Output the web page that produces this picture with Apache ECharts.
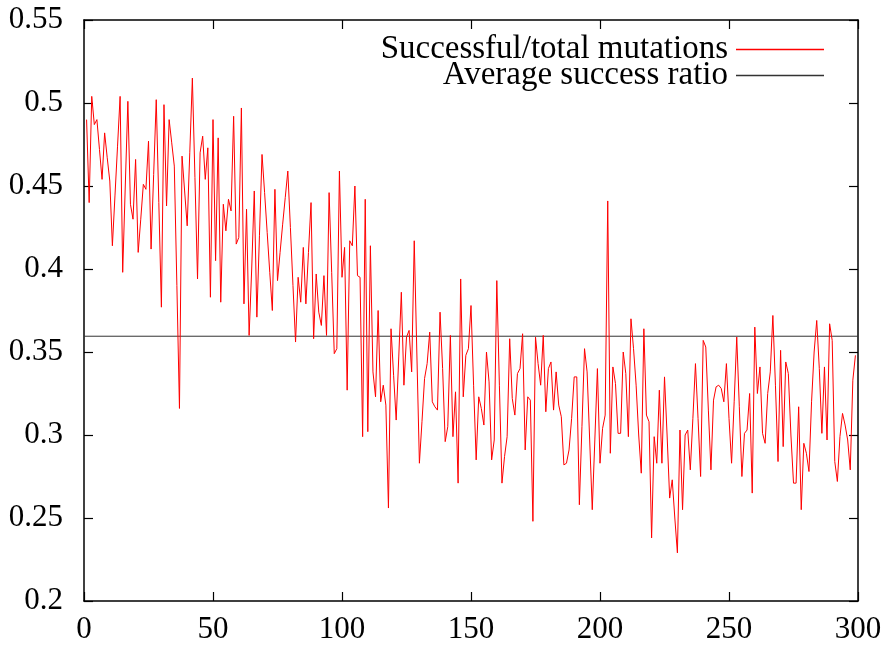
<!DOCTYPE html>
<html>
<head>
<meta charset="utf-8">
<script src="https://cdn.jsdelivr.net/npm/echarts@6/dist/echarts.min.js"></script>
<style>
html,body{margin:0;padding:0;background:#fff;}
#chart{width:892px;height:646px;}
</style>
</head>
<body>
<div id="chart"></div>
<script>
// Successful/total mutation ratio per generation (generations 1..299)
const successRatio = [
0.490,0.440,0.504,0.487,0.490,0.472,0.454,0.482,0.467,0.453,
0.414,0.444,0.474,0.504,0.398,0.450,0.501,0.439,0.430,0.466,
0.410,0.430,0.451,0.448,0.477,0.412,0.457,0.502,0.440,0.377,
0.499,0.438,0.490,0.476,0.462,0.390,0.316,0.468,0.447,0.426,
0.470,0.515,0.455,0.394,0.470,0.480,0.454,0.473,0.383,0.490,
0.405,0.479,0.380,0.439,0.423,0.442,0.435,0.492,0.415,0.419,
0.497,0.379,0.436,0.360,0.400,0.447,0.371,0.420,0.469,0.446,
0.422,0.398,0.375,0.448,0.393,0.410,0.427,0.443,0.459,0.425,
0.390,0.356,0.395,0.380,0.413,0.379,0.410,0.440,0.358,0.397,
0.374,0.366,0.396,0.360,0.446,0.398,0.349,0.352,0.459,0.395,
0.413,0.327,0.417,0.414,0.450,0.396,0.395,0.299,0.442,0.302,
0.414,0.338,0.323,0.375,0.320,0.330,0.318,0.256,0.364,0.336,
0.309,0.347,0.386,0.330,0.359,0.363,0.338,0.417,0.350,0.283,
0.308,0.334,0.343,0.362,0.320,0.317,0.315,0.374,0.340,0.296,
0.305,0.360,0.299,0.326,0.271,0.394,0.323,0.348,0.352,0.378,
0.330,0.285,0.323,0.316,0.306,0.350,0.332,0.285,0.297,0.393,
0.330,0.271,0.287,0.299,0.358,0.322,0.312,0.337,0.340,0.361,
0.291,0.323,0.321,0.248,0.359,0.343,0.330,0.360,0.314,0.340,
0.344,0.315,0.338,0.318,0.311,0.282,0.283,0.291,0.310,0.335,
0.335,0.258,0.305,0.352,0.338,0.297,0.255,0.297,0.340,0.283,
0.304,0.312,0.441,0.289,0.341,0.331,0.301,0.301,0.350,0.337,
0.299,0.370,0.352,0.330,0.300,0.277,0.364,0.312,0.308,0.238,
0.299,0.283,0.327,0.283,0.335,0.300,0.262,0.273,0.250,0.229,
0.303,0.255,0.300,0.303,0.279,0.310,0.343,0.310,0.275,0.357,
0.353,0.315,0.279,0.321,0.329,0.330,0.328,0.320,0.343,0.310,
0.283,0.320,0.359,0.317,0.275,0.301,0.303,0.325,0.265,0.365,
0.325,0.341,0.301,0.295,0.325,0.338,0.372,0.330,0.284,0.351,
0.293,0.344,0.337,0.300,0.271,0.271,0.317,0.255,0.295,0.289,
0.278,0.320,0.350,0.369,0.340,0.301,0.341,0.297,0.367,0.357,
0.284,0.272,0.299,0.313,0.306,0.297,0.279,0.333,0.348
];
const generations = successRatio.map((_, i) => i + 1);
const averageRatio = 0.3595;
const xRange = [0, 300];
const xTickStep = 50;
const yRange = [0.2, 0.55];
const yTickStep = 0.05;
const seriesNames = ['Successful/total mutations', 'Average success ratio'];

const FONT = 'Liberation Serif';
const chart = echarts.init(document.getElementById('chart'), null, {renderer: 'canvas'});

const fmtY = v => String(parseFloat(v.toFixed(2)));
const axisCommonX = {
  type: 'value', min: xRange[0], max: xRange[1], interval: xTickStep,
  axisLine: {show: true, onZero: false, lineStyle: {color: '#000', width: 1.5}},
  axisTick: {show: true, inside: true, length: 9, lineStyle: {color: '#000', width: 1.2}},
  splitLine: {show: false}
};
const axisCommonY = {
  type: 'value', min: yRange[0], max: yRange[1], interval: yTickStep,
  axisLine: {show: true, onZero: false, lineStyle: {color: '#000', width: 1.5}},
  axisTick: {show: true, inside: true, length: 9, lineStyle: {color: '#000', width: 1.2}},
  splitLine: {show: false}
};

chart.setOption({
  animation: false,
  backgroundColor: '#fff',
  grid: {left: 84, right: 34, top: 20, bottom: 45, containLabel: false},
  xAxis: [
    Object.assign({}, axisCommonX, {position: 'bottom',
      axisLabel: {show: true, margin: 13, color: '#000', fontFamily: FONT, fontSize: 31}}),
    Object.assign({}, axisCommonX, {position: 'top', axisLabel: {show: false}})
  ],
  yAxis: [
    Object.assign({}, axisCommonY, {position: 'left',
      axisLabel: {show: true, margin: 21, color: '#000', fontFamily: FONT, fontSize: 31, formatter: fmtY}}),
    Object.assign({}, axisCommonY, {position: 'right', axisLabel: {show: false}})
  ],
  legend: {
    orient: 'vertical',
    right: 63,
    top: 28,
    align: 'right',
    itemWidth: 88,
    itemHeight: 1.5,
    itemGap: -7,
    textStyle: {fontFamily: FONT, fontSize: 33, color: '#000', lineHeight: 27, padding: [0, 3, 0, 0]},
    data: [
      {name: seriesNames[0], icon: 'rect'},
      {name: seriesNames[1], icon: 'rect'}
    ]
  },
  series: [
    {
      name: seriesNames[0],
      type: 'line',
      data: generations.map((g, i) => [g, successRatio[i]]),
      showSymbol: false,
      symbol: 'none',
      lineStyle: {color: '#ff0000', width: 1},
      itemStyle: {color: '#ff0000'},
      z: 3
    },
    {
      name: seriesNames[1],
      type: 'line',
      data: [[xRange[0], averageRatio], [xRange[1], averageRatio]],
      showSymbol: false,
      symbol: 'none',
      lineStyle: {color: '#333', width: 1},
      itemStyle: {color: '#333'},
      z: 2
    }
  ]
});
</script>
</body>
</html>
